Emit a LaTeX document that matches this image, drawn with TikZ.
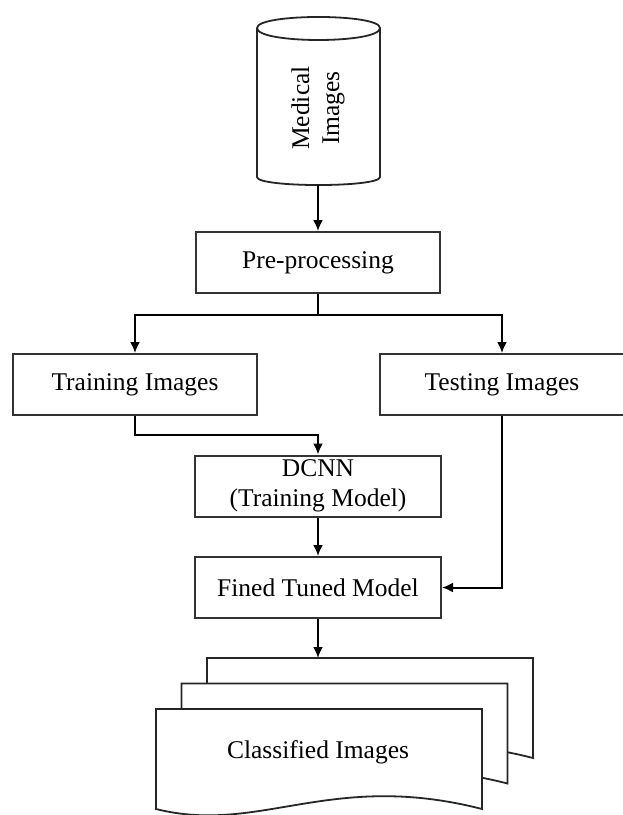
\documentclass[tikz,border=0pt]{standalone}
\usepackage{fontspec}
\setmainfont{Liberation Serif}
\usepackage{tikz}
\usetikzlibrary{positioning}
\usetikzlibrary{arrows.meta,calc}

\begin{document}
\begin{tikzpicture}[
    x=1pt, y=-1pt,
    every node/.style={font=\fontsize{25.5}{30}\selectfont},
    flow/.style={->, draw, line width=2pt, >={Latex[length=11pt,width=10pt]}},
    punkt/.style={rectangle, draw=black!80, line width=2pt, fill=white,
    minimum width=244pt, minimum height=61pt, inner sep=0pt},
    docpage/.style={draw=black!85, line width=1.8pt, fill=white}
    ]
\useasboundingbox (0,0) rectangle (622,815);

%Medical images, storage cylinder
\draw[docpage] (257,28) -- (257,177) .. controls (257,187.7) and (380,187.7) .. (380,177)
    -- (380,28) .. controls (380,13.3) and (257,13.3) .. (257,28) -- cycle;
\draw[docpage, fill=none] (257,28) .. controls (257,44) and (380,44) .. (380,28);
\node[rotate=90, align=center] (medimg) at (318,108) {Medical\\Images};
\coordinate (medbot) at (318,185);

\node[punkt] (preproc) at (318,262.5) {Pre-processing};
\node[punkt] (train) at (135,384.5) {Training Images};
\node[punkt] (test) at (502,384.5) {Testing Images};
\node[punkt, minimum width=246pt, align=center] (dcnn) at (318,486) {DCNN\\(Training Model)};
\node[punkt, minimum width=246pt] (tuned) at (318,587.5) {Fined Tuned Model};

%stack of classified images
\foreach \d in {51,25.5,0} {
    \draw[docpage, shift={(\d,-\d)}] (156,709) -- (482,709) -- (482,809)
        .. controls (330,770) and (260,835) .. (156,809) -- cycle;
}
\node (classif) at (318,752) {Classified Images};
\coordinate (stacktop) at (318,658);

%connectors
\draw[flow] (medbot) -- (preproc.north);
\draw[flow] (preproc.south) -- ++(0,21) -| (train.north);
\draw[flow] (preproc.south) -- ++(0,21) -| (test.north);
\draw[flow] (train.south) -- ++(0,19) -| (dcnn.north);
\draw[flow] (dcnn.south) -- (tuned.north);
\draw[flow] (test.south) |- (tuned.east);
\draw[flow] (tuned.south) -- (stacktop);
\end{tikzpicture}
\end{document}
